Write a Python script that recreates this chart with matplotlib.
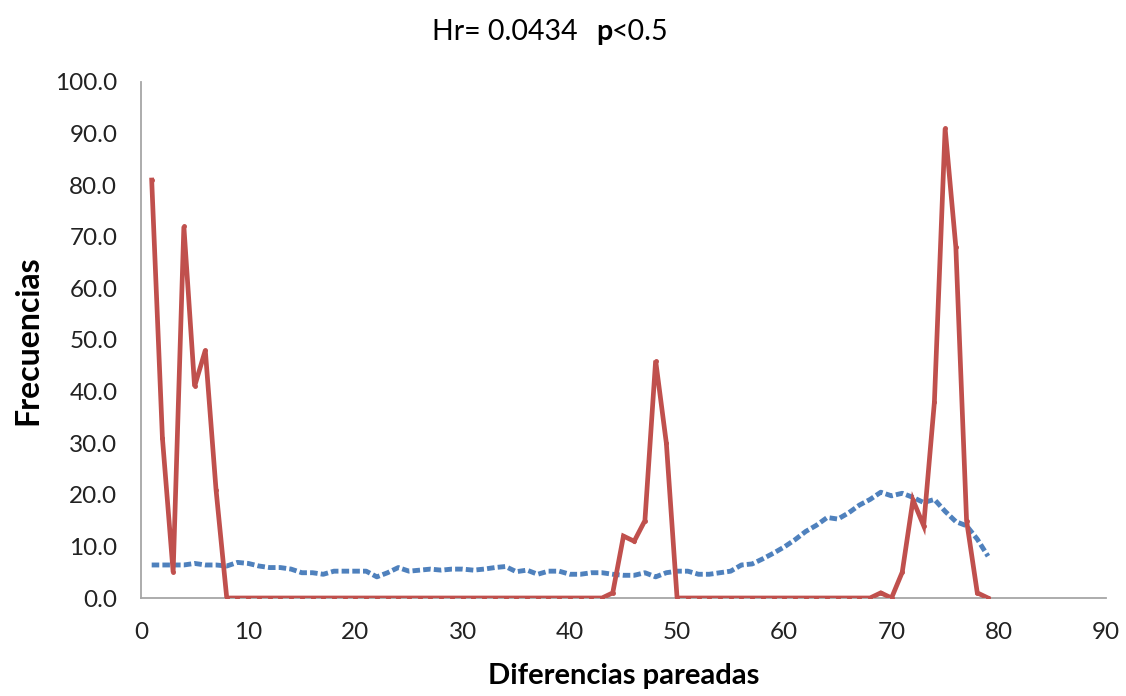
import matplotlib
matplotlib.use('Agg')
import matplotlib.pyplot as plt

plt.rcParams['font.family'] = ['Lato', 'DejaVu Sans']

# pairwise differences 1..79
dif = list(range(1, 80))

# observed (red solid)
obs = [81, 31, 5, 72, 41, 48, 21] + [0] * 36 + [1, 12, 11, 15, 46, 30] + [0] * 19 + \
      [1, 0, 5, 19, 14, 38, 91, 68, 15, 1, 0]

# expected (blue dotted)
esp = [6.4, 6.4, 6.4, 6.4, 6.7, 6.4, 6.4, 6.2, 6.9, 6.7,
       6.2, 5.9, 5.9, 5.6, 4.9, 4.9, 4.6, 5.2, 5.2, 5.2,
       5.2, 4.1, 4.9, 5.9, 5.2, 5.4, 5.6, 5.4, 5.6, 5.6,
       5.4, 5.6, 5.9, 6.1, 5.1, 5.4, 4.6, 5.2, 5.2, 4.6,
       4.6, 4.9, 4.9, 4.6, 4.4, 4.4, 4.9, 4.1, 4.9, 5.2,
       5.2, 4.6, 4.6, 4.9, 5.2, 6.4, 6.6, 7.6, 8.7, 9.9,
       11.3, 12.9, 14.1, 15.6, 15.3, 16.5, 18.0, 19.1, 20.5, 19.8,
       20.3, 19.5, 18.5, 19.1, 16.8, 14.8, 14.0, 11.4, 8.1]

yticks = [0, 10, 20, 30, 40, 50, 60, 70, 80, 90, 100]
xticks = [0, 10, 20, 30, 40, 50, 60, 70, 80, 90]

fig = plt.figure(figsize=(11.26, 6.96), dpi=100)
ax = fig.add_axes([0.1252, 0.1408, 0.857, 0.7414])

ax.plot(dif, esp, color='#4F81BD', lw=3.5, linestyle=(0, (1.55, 0.65)),
        dash_capstyle='butt', zorder=2)
ax.plot(dif, obs, color='#C0504D', lw=3.4, marker='o', markersize=2.5,
        solid_joinstyle='miter', zorder=3)

ax.set_xlim(0, 90)
ax.set_ylim(0, 100)
ax.set_xticks(xticks)
ax.set_yticks(yticks)
ax.set_yticklabels(['%.1f' % v for v in yticks])
ax.tick_params(length=0, labelsize=17.5, colors='#222222')
ax.tick_params(axis='y', pad=17)
ax.tick_params(axis='x', pad=17)

for s in ['top', 'right']:
    ax.spines[s].set_visible(False)
for s in ['left', 'bottom']:
    ax.spines[s].set_color('#A6A6A6')
    ax.spines[s].set_linewidth(1.3)

ax.set_ylabel('Frecuencias', fontsize=23, fontweight='bold', labelpad=9)
ax.set_xlabel('Diferencias pareadas', fontsize=21, fontweight='bold', labelpad=15)

# title with bold p
fig.text(578 / 1126, 1 - 32 / 696, 'Hr= 0.0434', ha='right', va='center', fontsize=20.5)
fig.text(596 / 1126, 1 - 32 / 696, 'p', ha='left', va='center', fontsize=20.5, fontweight='bold')
fig.text(612 / 1126, 1 - 32 / 696, '<0.5', ha='left', va='center', fontsize=20.5)

fig.savefig('out.png', dpi=100)
